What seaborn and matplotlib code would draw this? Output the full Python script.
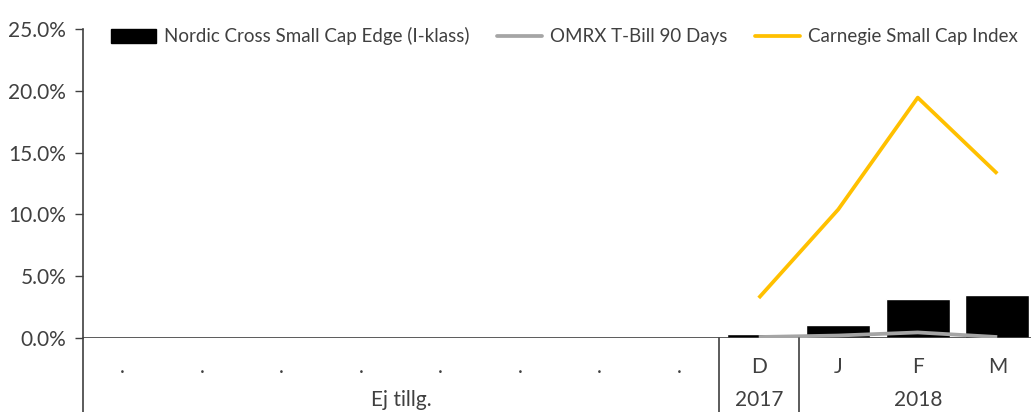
import numpy as np
import pandas as pd
import seaborn as sns
from matplotlib import pyplot as plt
from matplotlib.patches import Patch
from matplotlib.lines import Line2D
from matplotlib.ticker import FuncFormatter

# Data
categories = ['.', '.', '.', '.', '.', '.', '.', '.', 'D', 'J', 'F', 'M']
groups = ['Ej tillg.', '2017', '2018']
group_spans = [(0, 7), (8, 8), (9, 11)]
fund = [np.nan] * 8 + [0.3, 1.03, 3.13, 3.48]
tbill = [np.nan] * 8 + [0.08, 0.2, 0.45, 0.08]
index_vals = [np.nan] * 8 + [3.24, 10.4, 19.45, 13.3]
series_names = ['Nordic Cross Small Cap Edge (I-klass)', 'OMRX T-Bill 90 Days',
                'Carnegie Small Cap Index']

pos = np.arange(len(categories))
df = pd.DataFrame({'pos': pos, 'fund': fund, 'tbill': tbill, 'index': index_vals})

sns.set_style('white')
plt.rcParams['font.family'] = ['Lato', 'DejaVu Sans']
text_col = '#404040'
grey = '#A5A5A5'
yellow = '#FFC000'

fig = plt.figure(figsize=(10.31, 4.12), dpi=100)
ax = fig.add_axes([83 / 1031, 74 / 412, 948 / 1031, 309 / 412])

sns.barplot(data=df, x='pos', y='fund', color='black', width=0.8,
            saturation=1, ax=ax, order=list(pos))
line_df = df.dropna()
ax.plot(line_df['pos'], line_df['tbill'], color=grey, lw=2.7, solid_capstyle='butt')
ax.plot(line_df['pos'], line_df['index'], color=yellow, lw=2.7, solid_capstyle='butt')

ax.set_xlim(-0.5, -0.5 + 948 / 79.5)
ax.set_ylim(0, 25)
ax.set_yticks([0, 5, 10, 15, 20, 25])
ax.yaxis.set_major_formatter(FuncFormatter(lambda v, p: f'{v:.1f}%'))
ax.tick_params(axis='y', left=True, length=6, width=1, color=text_col,
               labelsize=15, labelcolor=text_col, pad=6)
ax.set_xticks(pos)
ax.set_xticklabels(categories)
ax.tick_params(axis='x', bottom=False, length=0, labelsize=15,
               labelcolor=text_col, pad=14)
ax.set_xlabel('')
ax.set_ylabel('')

for s in ['top', 'right', 'bottom']:
    ax.spines[s].set_visible(False)
ax.spines['left'].set_color(text_col)
ax.spines['left'].set_linewidth(1.2)
ax.axhline(0, color=text_col, lw=1.2, zorder=1)

# group labels and separators below the category axis
bottom = -74 / 309
for x in [-0.5, 7.5, 8.5]:
    ax.plot([x, x], [0, bottom], transform=ax.get_xaxis_transform(),
            color=text_col, lw=1.2, clip_on=False)
for name, (a, b) in zip(groups, group_spans):
    ax.text((a + b) / 2, -62 / 309, name, transform=ax.get_xaxis_transform(),
            ha='center', va='center', fontsize=15, color=text_col)

handles = [Patch(facecolor='black', edgecolor='black'),
           Line2D([0], [0], color=grey, lw=2.7),
           Line2D([0], [0], color=yellow, lw=2.7)]
ax.legend(handles, series_names, ncol=3, frameon=False, loc='upper left',
          bbox_to_anchor=(0.012, 1.06), fontsize=13.5, handlelength=2.4,
          handleheight=0.8, handletextpad=0.4, columnspacing=1.5,
          labelcolor=text_col)

fig.savefig('out.png', dpi=100)
